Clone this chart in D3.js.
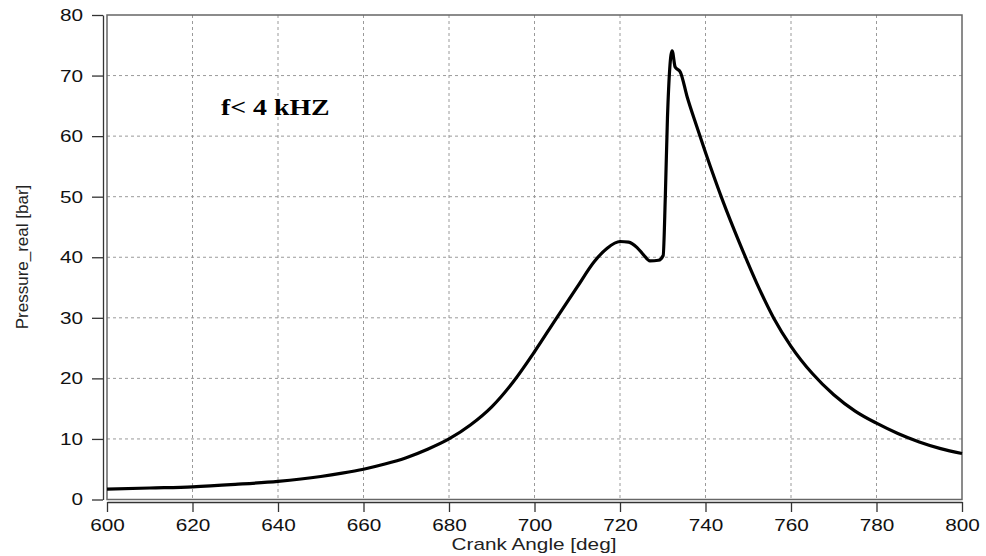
<!DOCTYPE html>
<html>
<head>
<meta charset="utf-8">
<script src="https://cdn.jsdelivr.net/npm/d3@7"></script>
<style>
  body { margin: 0; background: #fff; }
</style>
</head>
<body>
<div id="chart"></div>
<script>
const crankAngle = [600, 610, 620, 630, 640, 650, 655, 660, 665, 670, 675, 680, 685, 690, 695, 700,
    705, 710, 714, 717, 720, 722, 724, 725.5, 727, 729, 730.1, 730.6, 731.1, 732.2, 732.9,
    734.1, 735.7, 738, 740, 744, 748, 752, 756, 760, 765, 770, 775, 780, 785, 790, 795, 800];
const pressure = [1.7, 1.9, 2.1, 2.5, 3.0, 3.8, 4.35, 5.0, 5.85, 6.9, 8.3, 10.0, 12.3, 15.3, 19.4, 24.4,
    29.8, 35.1, 39.3, 41.5, 42.6, 42.5, 41.6, 40.4, 39.4, 39.5, 40.3, 50, 63, 74.1, 71.4,
    70.6, 66.5, 61.5, 57.3, 49.4, 42.3, 35.7, 29.9, 25.3, 20.8, 17.3, 14.6, 12.6, 10.9, 9.5, 8.4, 7.6];

const xTicks = [600, 620, 640, 660, 680, 700, 720, 740, 760, 780, 800];
const yTicks = [0, 10, 20, 30, 40, 50, 60, 70, 80];

const data = crankAngle.map((a, i) => ({angle: a, p: pressure[i]}));

const width = 986, height = 556;

// plot box
const box = {left: 107, right: 962, top: 15, bottom: 499.5};

const svg = d3.select("#chart")
    .append("svg")
    .attr("width", width)
    .attr("height", height)
    .style("font-family", "'Liberation Sans', Arial, sans-serif");

const x = d3.scaleLinear().domain([600, 800]).range([box.left, box.right]);
const y = d3.scaleLinear().domain([0, 80]).range([box.bottom, box.top]);

// text in the reference is a bit wider than normal Arial
const stretch = (sel, k) => sel.each(function () {
    const w = this.getComputedTextLength();
    this.setAttribute("textLength", w * k);
    this.setAttribute("lengthAdjust", "spacingAndGlyphs");
});

// grid
svg.append("g")
    .selectAll("line")
    .data(xTicks.slice(1, -1))
    .enter()
    .append("line")
    .attr("x1", d => x(d)).attr("x2", d => x(d))
    .attr("y1", box.top).attr("y2", box.bottom)
    .attr("stroke", "#9a9a9a").attr("stroke-dasharray", "3,3");

svg.append("g")
    .selectAll("line")
    .data(yTicks.slice(1, -1))
    .enter()
    .append("line")
    .attr("x1", box.left).attr("x2", box.right)
    .attr("y1", d => y(d)).attr("y2", d => y(d))
    .attr("stroke", "#9a9a9a").attr("stroke-dasharray", "3,3");

// frame
svg.append("rect")
    .attr("x", box.left).attr("y", box.top)
    .attr("width", box.right - box.left).attr("height", box.bottom - box.top)
    .attr("fill", "none").attr("stroke", "#666").attr("stroke-width", 1.5);

// y axis, drawn a few px left of the frame
const yAxis = svg.append("g")
    .attr("transform", "translate(103,0)")
    .call(d3.axisLeft(y).tickValues(yTicks).tickSize(11).tickSizeOuter(0).tickPadding(9));
yAxis.attr("font-family", null);
yAxis.select(".domain").attr("stroke", "#333").attr("stroke-width", 1.3);
yAxis.selectAll(".tick line").attr("stroke", "#333").attr("stroke-width", 1.3);
yAxis.selectAll("text").attr("font-size", 17).attr("fill", "#111").call(stretch, 1.22);

// x axis, a few px below the frame
const xAxis = svg.append("g")
    .attr("transform", "translate(0,502)")
    .call(d3.axisBottom(x).tickValues(xTicks).tickFormat(d3.format("d")).tickSize(10).tickSizeOuter(0).tickPadding(7));
xAxis.attr("font-family", null);
xAxis.select(".domain").attr("stroke", "#333").attr("stroke-width", 1.3);
xAxis.selectAll(".tick line").attr("stroke", "#333").attr("stroke-width", 1.3);
xAxis.selectAll("text").attr("font-size", 17).attr("fill", "#111").call(stretch, 1.22);

// axis labels
svg.append("text")
    .attr("x", 534).attr("y", 550)
    .attr("text-anchor", "middle")
    .attr("font-size", 17).attr("fill", "#222")
    .text("Crank Angle [deg]")
    .call(stretch, 1.22);

svg.append("text")
    .attr("transform", "translate(28,257) rotate(-90)")
    .attr("text-anchor", "middle")
    .attr("font-size", 17).attr("fill", "#222")
    .text("Pressure_real [bar]");

// annotation
svg.append("text")
    .attr("x", 221).attr("y", 115)
    .style("font-family", "'Liberation Serif', 'Times New Roman', serif")
    .style("font-weight", "bold")
    .style("font-size", "24px")
    .attr("fill", "#000")
    .text("f< 4 kHZ")
    .call(stretch, 1.16);

// pressure trace
const line = d3.line()
    .x(d => x(d.angle))
    .y(d => y(d.p))
    .curve(d3.curveMonotoneX);

svg.append("path")
    .datum(data)
    .attr("fill", "none")
    .attr("stroke", "#000")
    .attr("stroke-width", 3.2)
    .attr("stroke-linejoin", "round")
    .attr("d", line);
</script>
</body>
</html>
